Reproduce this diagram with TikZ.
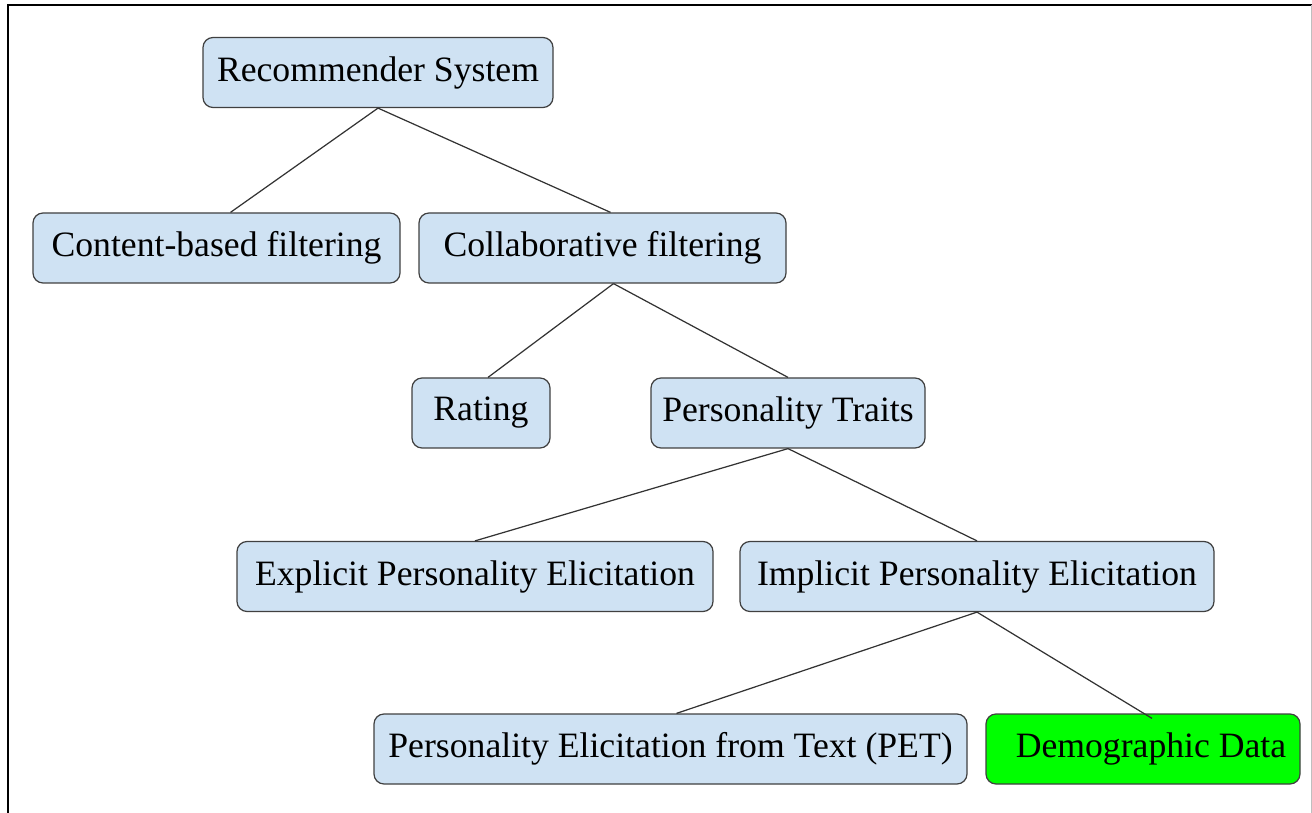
\documentclass[tikz,border=0pt]{standalone}
\usepackage{fontspec}
\setmainfont{Liberation Serif}
\usepackage{tikz}
\usetikzlibrary{shapes.geometric, arrows}
\definecolor{boxblue}{HTML}{CFE2F3}
\definecolor{boxgreen}{HTML}{00FF00}
\tikzstyle{topic} = [rectangle, rounded corners=0.2cm, minimum height=1.4cm, text centered, draw=black!75, line width=0.7pt, fill=boxblue, font=\fontsize{20.3}{24}\selectfont]
\tikzstyle{picked} = [topic, fill=boxgreen]
\tikzstyle{link} = [draw=black!80, line width=0.7pt]

\begin{document}
\begin{tikzpicture}[node distance=3.4cm]
\useasboundingbox (0,0) rectangle (26.24,-16.26);

% frame
\draw [line width=1.7pt] (0.16,-16.26) -- (0.16,-0.1) -- (26.24,-0.1);
\draw [black!25, line width=0.4pt] (26.22,-0.1) -- (26.22,-16.26);

\node (rec) [topic, minimum width=7cm] at (7.56,-1.45) {Recommender System};

\node (cbf) [topic, minimum width=7.34cm, below of=rec, xshift=-3.23cm, yshift=-0.11cm] {Content-based filtering};
\node (cf) [topic, minimum width=7.34cm, below of=rec, xshift=4.49cm, yshift=-0.11cm] {Collaborative filtering};

\node (rat) [topic, minimum width=2.76cm, below of=cf, xshift=-2.43cm, yshift=0.1cm] {Rating};
\node (pt) [topic, minimum width=5.48cm, below of=cf, xshift=3.71cm, yshift=0.1cm] {Personality Traits};

\node (epe) [topic, minimum width=9.52cm, below of=pt, xshift=-6.26cm, yshift=0.13cm] {Explicit Personality Elicitation};
\node (ipe) [topic, minimum width=9.48cm, below of=pt, xshift=3.78cm, yshift=0.13cm] {Implicit Personality Elicitation};

\node (pet) [topic, minimum width=11.86cm, below of=ipe, xshift=-6.13cm, yshift=-0.05cm] {Personality Elicitation from Text (PET)};
\node (demo) [picked, minimum width=6.28cm, below of=ipe, xshift=3.32cm, yshift=-0.05cm] {\hspace{0.32cm}Demographic Data};

\draw [link] (rec.south) -- ([xshift=0.28cm]cbf.north);
\draw [link] (rec.south) -- ([xshift=0.16cm]cf.north);

\draw [link] ([xshift=0.22cm]cf.south) -- ([xshift=0.14cm]rat.north);
\draw [link] ([xshift=0.22cm]cf.south) -- (pt.north);

\draw [link] (pt.south) -- (epe.north);
\draw [link] (pt.south) -- (ipe.north);

\draw [link] (ipe.south) -- ([xshift=0.12cm]pet.north);
\draw [link] (ipe.south) -- ([xshift=0.18cm,yshift=-0.1cm]demo.north);

\end{tikzpicture}
\end{document}
